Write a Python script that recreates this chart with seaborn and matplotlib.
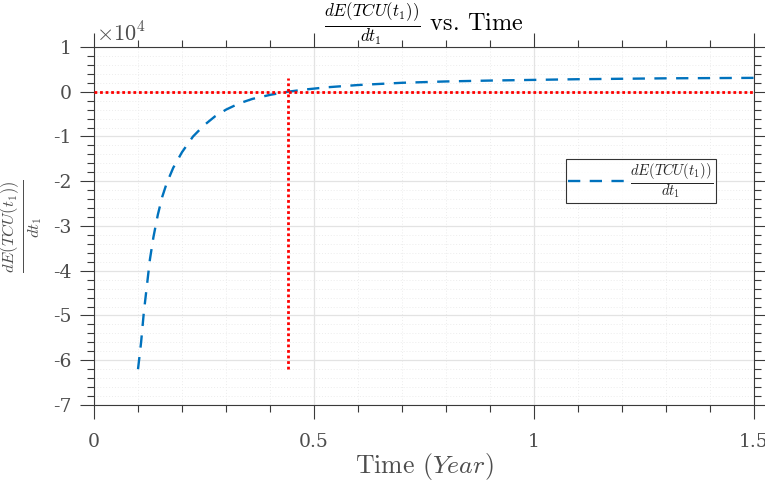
import numpy as np
import pandas as pd
import matplotlib
matplotlib.use("Agg")
import matplotlib.pyplot as plt
from matplotlib.ticker import MultipleLocator
import seaborn as sns

# Derivative of expected total cost per unit time (in units of 1e4)
t_years = [0.100, 0.107, 0.113, 0.120, 0.127, 0.135, 0.145, 0.155, 0.165,
           0.180, 0.200, 0.225, 0.250, 0.275, 0.300, 0.330, 0.360, 0.400,
           0.440, 0.480, 0.530, 0.600, 0.700, 0.800, 0.900, 1.000, 1.100,
           1.200, 1.300, 1.400, 1.500]
dE_dt1 = [-6.20, -5.60, -4.95, -4.35, -3.75, -3.25, -2.75, -2.35, -2.05,
          -1.70, -1.35, -1.00, -0.75, -0.55, -0.40, -0.26, -0.16, -0.07,
          0.00, 0.05, 0.10, 0.15, 0.20, 0.23, 0.25, 0.265, 0.28,
          0.29, 0.30, 0.305, 0.31]

# Reference lines: zero level and optimal t1
zero_x = [0.0, 1.5]
zero_y = [0.0, 0.0]
t1_opt_x = [0.44, 0.44]
t1_opt_y = [-6.2, 0.3]

x_ticks = [0, 0.5, 1, 1.5]
x_ticklabels = ["0", "0.5", "1", "1.5"]
y_ticks = [1, 0, -1, -2, -3, -4, -5, -6, -7]
y_ticklabels = ["1", "0", "-1", "-2", "-3", "-4", "-5", "-6", "-7"]

frac = r"$\frac{dE(TCU(t_1))}{dt_1}$"

sns.set_theme(style="white")
plt.rcParams["font.family"] = ["cmr10", "DejaVu Serif"]
plt.rcParams["mathtext.fontset"] = "cm"
plt.rcParams["axes.unicode_minus"] = False
plt.rcParams["axes.formatter.use_mathtext"] = True

tick_grey = "#4d4d4d"
spine_grey = "#3a3a3a"

fig = plt.figure(figsize=(7.65, 4.83), dpi=100)
ax = fig.add_axes([0.1229, 0.1615, 0.8627, 0.7412])

df = pd.DataFrame({"t": t_years, "d": dE_dt1})
sns.lineplot(data=df, x="t", y="d", ax=ax, color="#0072BD", lw=1.7,
             linestyle=(0, (5.2, 4.0)), label=frac, zorder=3)
ax.plot(zero_x, zero_y, color="red", lw=2.0, linestyle=(0, (1, 1)), zorder=4)
ax.plot(t1_opt_x, t1_opt_y, color="red", lw=2.0, linestyle=(0, (1, 1)), zorder=4)

ax.set_xlim(0, 1.5)
ax.set_ylim(-7, 1)
ax.set_xticks(x_ticks)
ax.set_xticklabels(x_ticklabels, fontfamily="DejaVu Serif")
ax.set_yticks(y_ticks)
ax.set_yticklabels(y_ticklabels, fontfamily="DejaVu Serif")
ax.xaxis.set_minor_locator(MultipleLocator(0.1))
ax.yaxis.set_minor_locator(MultipleLocator(0.2))

ax.tick_params(which="both", direction="out", top=True, right=True,
               bottom=True, left=True, colors=spine_grey,
               labelcolor=tick_grey, labelsize=13.5)
ax.tick_params(which="major", length=10, width=0.8)
ax.tick_params(which="minor", length=5, width=0.8)
ax.tick_params(axis="x", which="major", pad=10)
ax.tick_params(axis="y", which="major", pad=6)

ax.grid(which="major", color="#e3e3e3", lw=0.9, ls="-")
ax.grid(which="minor", color="#ececec", lw=0.7, ls=(0, (1, 2)))
ax.set_axisbelow(True)
for s in ax.spines.values():
    s.set_color(spine_grey)
    s.set_linewidth(0.8)

ax.set_xlabel(r"Time $(Year)$", fontsize=18.5, color=tick_grey, labelpad=0)
ax.set_ylabel(frac, fontsize=17, color=tick_grey, labelpad=6)
ax.set_title(frac + " vs. Time", fontsize=17.5, color="black", pad=4)

ax.text(0.003, 1.004, r"$\times10^{4}$", transform=ax.transAxes,
        ha="left", va="bottom", fontsize=16, color=tick_grey)

leg = ax.legend(loc="upper left", bbox_to_anchor=(0.715, 0.686),
                fancybox=False, frameon=True, edgecolor="black",
                fontsize=15, handlelength=2.7, borderpad=0.1,
                handletextpad=0.3, borderaxespad=0)
leg.get_frame().set_linewidth(0.8)

fig.savefig("out.png", dpi=100)
